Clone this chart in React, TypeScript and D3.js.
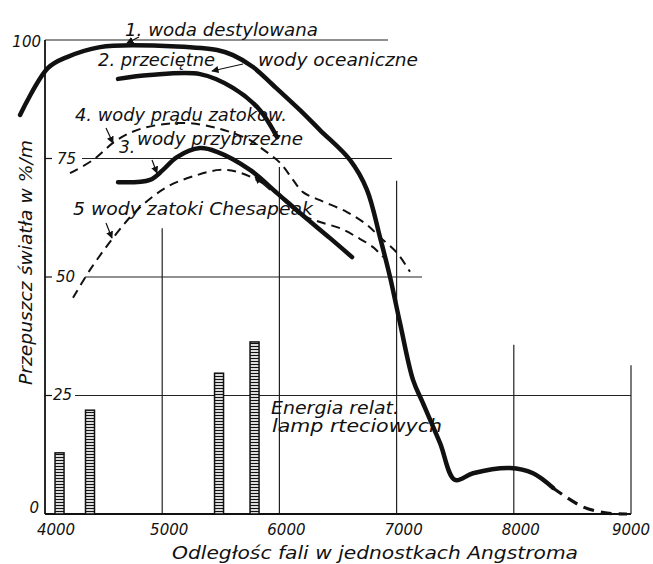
import React from "react";
import * as d3 from "d3";

// ---- data (wavelength in Å, transmission in % per metre) ----
const xTicks = [4000, 5000, 6000, 7000, 8000, 9000];
const yTicks = [0, 25, 50, 75, 100];

const distilledSolid: [number, number][] = [
  [3787, 84.2], [4026, 94.1], [4188, 96.4], [4469, 98.5], [4751, 98.9],
  [5468, 97.9], [5604, 96.8], [5775, 94.3], [5945, 90.5], [6176, 85.2],
  [6346, 81.0], [6602, 74.7], [6747, 68.4], [6858, 58.4], [6944, 50.0],
  [7029, 40.3], [7140, 28.3], [7225, 23.4], [7370, 15.0], [7498, 7.2],
  [7652, 8.6], [7968, 9.7], [8164, 8.6], [8335, 5.5],
];
const distilledDashed: [number, number][] = [
  [8335, 5.5], [8590, 1.5], [8795, 0.2], [8966, 0.0],
];
const oceanAverage: [number, number][] = [
  [4623, 91.8], [4896, 92.6], [5323, 92.8], [5604, 89.9], [5834, 85.2], [5980, 79.5],
];
const coastal: [number, number][] = [
  [4623, 70.0], [4896, 70.5], [5007, 72.6], [5126, 75.3], [5323, 77.2],
  [5468, 76.4], [5749, 72.6], [5980, 67.7], [6176, 63.5], [6432, 58.2], [6620, 54.2],
];
const gulfStream: [number, number][] = [
  [4213, 71.9], [4410, 74.7], [4614, 78.9], [4836, 81.4], [5177, 82.5],
  [5468, 81.4], [5749, 78.9], [5834, 77.4], [6005, 74.1], [6116, 70.5],
  [6201, 67.9], [6346, 66.2], [6577, 63.7], [6747, 61.0], [6858, 58.4],
  [7003, 55.1], [7114, 51.1],
];
const chesapeake: [number, number][] = [
  [4239, 45.6], [4384, 51.5], [4614, 59.3], [4785, 64.1], [5041, 69.0],
  [5297, 71.5], [5493, 72.6], [5638, 72.2], [5860, 69.8], [5962, 67.9],
  [6176, 63.3], [6346, 61.6], [6517, 60.3], [6662, 58.4], [6799, 56.3], [6884, 54.2],
];
const mercuryLines = [4124, 4384, 5485, 5788];
const mercuryEnergy = [12.9, 21.9, 29.7, 36.3];

// grid line extents (data units)
const hGrid: { v: number; from: number; to: number }[] = [
  { v: 100, from: 4000, to: 6927 },
  { v: 75, from: 4316, to: 6961 },
  { v: 50, from: 4341, to: 7217 },
  { v: 25, from: 4256, to: 9000 },
];
const vGrid: { v: number; top: number }[] = [
  { v: 5000, top: 60.3 },
  { v: 6000, top: 73.2 },
  { v: 7000, top: 70.3 },
  { v: 8000, top: 35.7 },
  { v: 9000, top: 31.4 },
];

const W = 653;
const H = 564;
const FONT = "'DejaVu Sans', 'Liberation Sans', sans-serif";
const INK = "#111";

export default function App() {
  const x = d3.scaleLinear().domain([4000, 9000]).range([45, 631]);
  const y = d3.scaleLinear().domain([0, 100]).range([514, 40]);
  const line = d3
    .line<[number, number]>()
    .x((d) => x(d[0]))
    .y((d) => y(d[1]))
    .curve(d3.curveCatmullRom.alpha(0.5));

  const yLabelPos: Record<number, { dx: number; dy: number; anchor: string }> = {
    100: { dx: -4, dy: 7, anchor: "end" },
    75: { dx: 12, dy: 5, anchor: "start" },
    50: { dx: 11, dy: 5, anchor: "start" },
    25: { dx: 8, dy: 4, anchor: "start" },
    0: { dx: -6, dy: -1, anchor: "end" },
  };

  const arrow = (x1: number, y1: number, x2: number, y2: number, key: string) => (
    <line key={key} x1={x1} y1={y1} x2={x2} y2={y2} stroke={INK} strokeWidth={1.2} markerEnd="url(#ah)" />
  );

  return (
    <svg
      width={W}
      height={H}
      style={{ position: "absolute", left: 0, top: 0, background: "#fff" }}
      fontFamily={FONT}
      fontStyle="italic"
    >
      <defs>
        <marker id="ah" viewBox="0 0 10 10" refX="9" refY="5" markerWidth="6" markerHeight="6" orient="auto">
          <path d="M0,0 L10,5 L0,10 z" fill={INK} />
        </marker>
        <pattern id="ladder" width="4" height="3" patternUnits="userSpaceOnUse">
          <rect width="4" height="3" fill="#fff" />
          <line x1="0" y1="1.5" x2="4" y2="1.5" stroke={INK} strokeWidth="1.3" />
        </pattern>
      </defs>

      {/* grid */}
      {hGrid.map((g) => (
        <line key={"h" + g.v} x1={x(g.from)} x2={x(g.to)} y1={y(g.v)} y2={y(g.v)} stroke="#222" strokeWidth={1.2} />
      ))}
      {vGrid.map((g) => (
        <line key={"v" + g.v} x1={x(g.v)} x2={x(g.v)} y1={y(g.top)} y2={y(0)} stroke="#222" strokeWidth={1.2} />
      ))}
      {/* axes */}
      <line x1={x(4000)} x2={x(4000)} y1={y(100)} y2={y(0)} stroke={INK} strokeWidth={1.8} />
      <line x1={x(4000)} x2={x(9000)} y1={y(0)} y2={y(0)} stroke={INK} strokeWidth={1.8} />
      {[25, 50, 75].map((v) => (
        <line key={"t" + v} x1={x(4000)} x2={x(4000) + 7} y1={y(v)} y2={y(v)} stroke={INK} strokeWidth={1.2} />
      ))}

      {/* tick labels */}
      {yTicks.map((v) => (
        <text key={"yl" + v} x={x(4000) + yLabelPos[v].dx} y={y(v) + yLabelPos[v].dy} textAnchor={yLabelPos[v].anchor} fontSize={15} fill={INK}>
          {v}
        </text>
      ))}
      {xTicks.map((v) => (
        <text key={"xl" + v} x={x(v) + (v === 9000 ? 0 : v === 4000 ? 11 : 7)} y={535} textAnchor="middle" fontSize={15} fill={INK}>
          {v}
        </text>
      ))}

      {/* mercury lamp bars */}
      {mercuryLines.map((l, i) => (
        <rect key={"b" + i} x={x(l) - 4.5} width={9} y={y(mercuryEnergy[i])} height={y(0) - y(mercuryEnergy[i])} fill="url(#ladder)" stroke={INK} strokeWidth={1.5} />
      ))}

      {/* curves */}
      <path d={line(gulfStream) ?? ""} fill="none" stroke={INK} strokeWidth={2} strokeDasharray="9 6" />
      <path d={line(chesapeake) ?? ""} fill="none" stroke={INK} strokeWidth={2} strokeDasharray="9 6" />
      <path d={line(distilledSolid) ?? ""} fill="none" stroke={INK} strokeWidth={4.5} strokeLinecap="round" />
      <path d={line(distilledDashed) ?? ""} fill="none" stroke={INK} strokeWidth={3.2} strokeDasharray="11 7" />
      <path d={line(oceanAverage) ?? ""} fill="none" stroke={INK} strokeWidth={4.5} strokeLinecap="round" />
      <path d={line(coastal) ?? ""} fill="none" stroke={INK} strokeWidth={4.5} strokeLinecap="round" />

      {/* annotations */}
      <g fill={INK}>
        <text x={125} y={36} fontSize={18} textLength={193} lengthAdjust="spacingAndGlyphs">1. woda destylowana</text>
        <text x={98} y={66} fontSize={18} textLength={117} lengthAdjust="spacingAndGlyphs">2. przeciętne</text>
        <text x={258} y={66} fontSize={18} textLength={160} lengthAdjust="spacingAndGlyphs">wody oceaniczne</text>
        <text x={75} y={121} fontSize={18} textLength={212} lengthAdjust="spacingAndGlyphs">4. wody prądu zatokow.</text>
        <text x={119} y={153} fontSize={17}>3.</text>
        <text x={137} y={145} fontSize={18} textLength={166} lengthAdjust="spacingAndGlyphs">wody przybrzeżne</text>
        <text x={73} y={215} fontSize={18} textLength={240} lengthAdjust="spacingAndGlyphs">5 wody zatoki Chesapeak</text>
        <text x={271} y={414} fontSize={17} textLength={128} lengthAdjust="spacingAndGlyphs">Energia relat.</text>
        <text x={272} y={432} fontSize={17} textLength={170} lengthAdjust="spacingAndGlyphs">lamp rteciowych</text>
        <text x={172} y={559} fontSize={18} textLength={406} lengthAdjust="spacingAndGlyphs">Odległośc fali w jednostkach Angstroma</text>
        <text transform="translate(32,385) rotate(-90)" fontSize={18} textLength={245} lengthAdjust="spacingAndGlyphs">Przepuszcz światła w %/m</text>
      </g>
      {arrow(139, 37, 127, 43, "a1")}
      {arrow(243, 64, 212, 71, "a2")}
      {arrow(106, 128, 113, 143, "a4")}
      {arrow(152, 160, 157, 173, "a3")}
      {arrow(106, 223, 112, 238, "a5")}
      {arrow(270, 190, 255, 177, "a6")}
    </svg>
  );
}
